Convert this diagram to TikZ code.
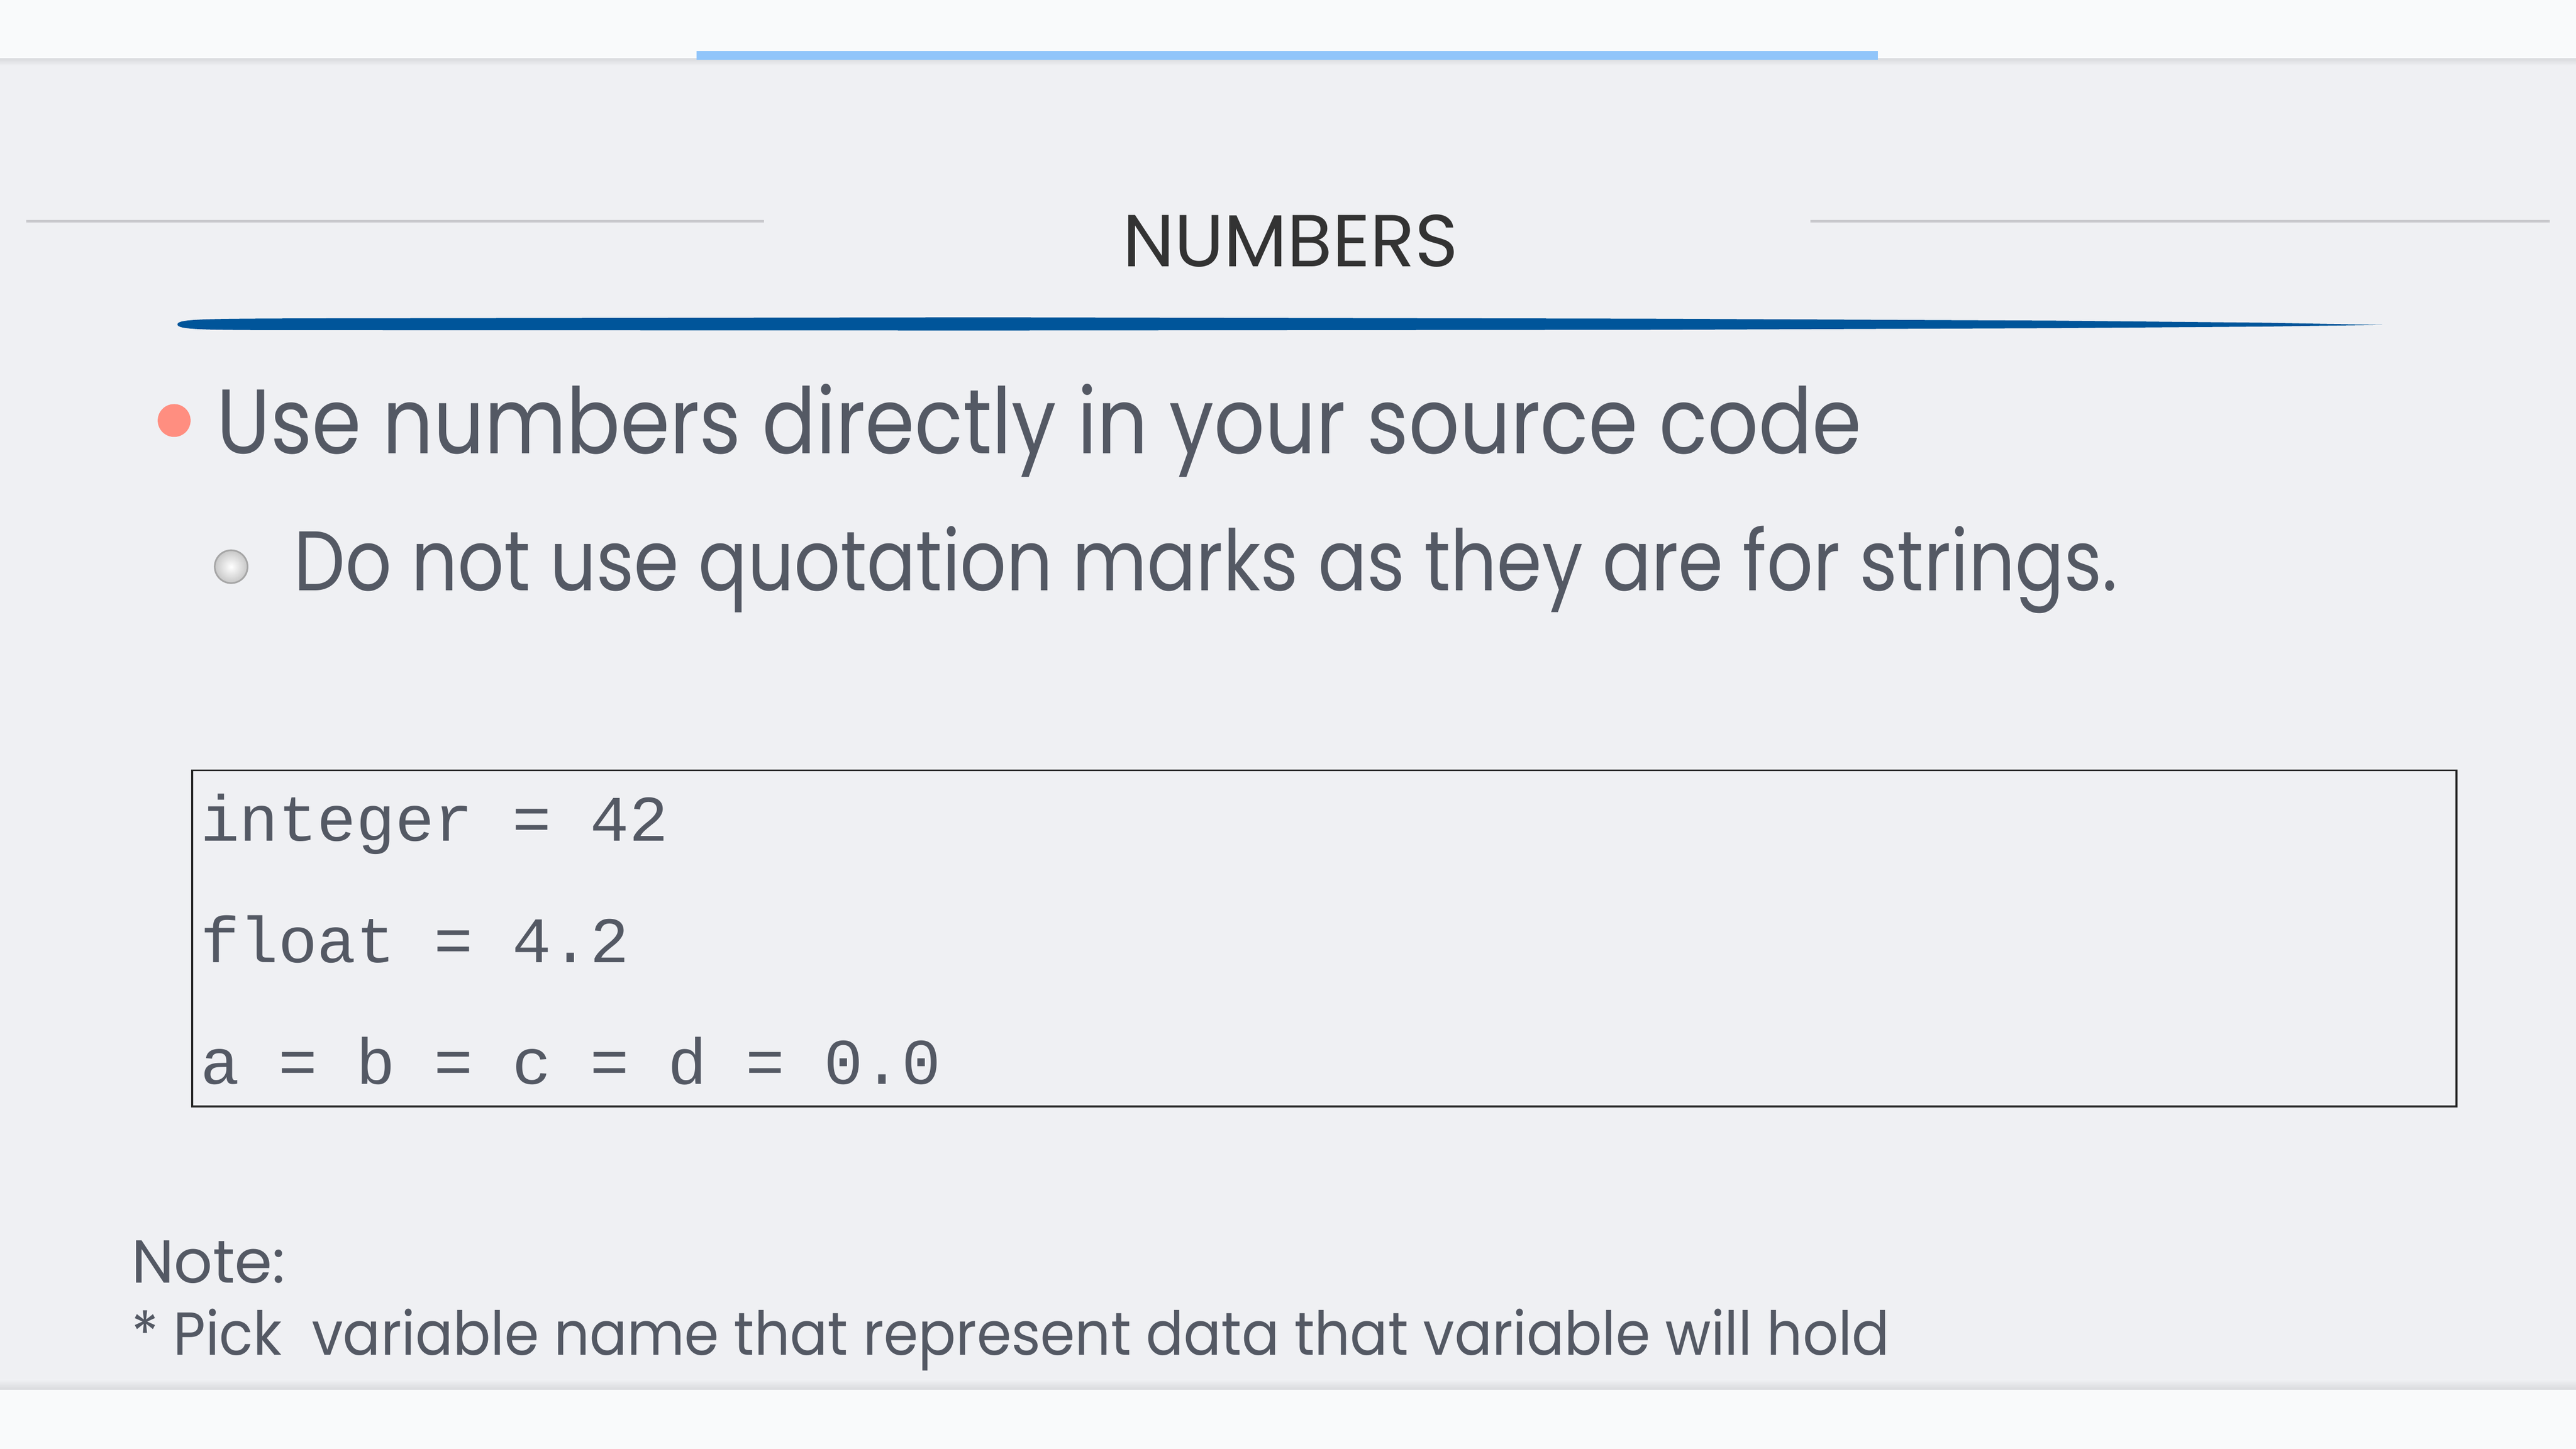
\documentclass[tikz,border=0pt]{standalone}
\usepackage{graphicx}
\usepackage{fontspec}
\setmainfont{Poppins}
\newfontfamily\codefont{Liberation Mono}
\definecolor{bgmain}{HTML}{EFF0F3}
\definecolor{bgband}{HTML}{F9FAFB}
\definecolor{txtgray}{HTML}{545964}
\definecolor{titlegray}{HTML}{333333}
\definecolor{rulegray}{HTML}{C9C9CD}
\definecolor{barblue}{HTML}{91C5FA}
\definecolor{brushblue}{HTML}{00559A}
\definecolor{dotpink}{HTML}{FF8E80}
\definecolor{shadowgray}{HTML}{D9DADD}
\tikzset{
  txt/.style={anchor=base west, inner sep=0pt, outer sep=0pt, text=txtgray},
  codetxt/.style={txt, font=\codefont\fontsize{22.5}{27}\selectfont},
}
\begin{document}
\begin{tikzpicture}[x=0.02cm, y=-0.02cm]
\useasboundingbox (0,0) rectangle (1568,882);
% backgrounds
\fill[bgmain] (0,0) rectangle (1568,882);
\fill[bgband] (0,0) rectangle (1568,35.5);
\shade[top color=shadowgray, bottom color=bgmain] (0,35.5) rectangle (1568,40);
\fill[bgband] (0,846) rectangle (1568,882);
\shade[top color=bgmain, bottom color=shadowgray] (0,840) rectangle (1568,846);
\fill[barblue] (424,31) rectangle (1143,36.5);
% title rules
\draw[rulegray, line width=1.5*0.02cm] (16,134.7) -- (465,134.7);
\draw[rulegray, line width=1.5*0.02cm] (1102,134.7) -- (1552,134.7);
\node[anchor=base, inner sep=0pt, text=titlegray, font=\fontsize{25.5}{30}\selectfont] (title) at (785.5,162.4) {NUMBERS};
% brush stroke
\fill[brushblue] (108,197.5) .. controls (108,194) and (125,194) .. (200,193.8)
  -- (600,193.2) -- (1000,194) -- (1250,195.2) -- (1380,196.5) -- (1450,197.8)
  -- (1380,198.8) -- (1250,199.8) -- (1000,200.8) -- (600,201.2) -- (200,201)
  .. controls (125,201) and (108,201) .. (108,197.5) -- cycle;
% bullets
\fill[dotpink] (106,256) circle (10);
\shade[inner color=white, outer color=black!22, draw=black!35, line width=0.02cm] (140.7,345) circle (10);
\node[txt, font=\fontsize{31.7}{38}\selectfont] (b1) at (132,276) {\scalebox{0.87}[1]{Use numbers directly in your source code}};
\node[txt, font=\fontsize{29.3}{35}\selectfont] (b2) at (179,359.5) {\scalebox{0.858}[1]{Do not use quotation marks as they are for strings.}};
% code box
\draw[black!85, line width=1.2*0.02cm] (117,469) rectangle (1495.3,673.7);
\node[codetxt] (c1) at (122,512) {integer = 42};
\node[codetxt] (c2) at (122,586) {float = 4.2};
\node[codetxt] (c3) at (122,660) {a = b = c = d = 0.0};
% note
\node[txt, font=\fontsize{21}{25}\selectfont] (n1) at (80,781) {Note:};
\node[txt, font=\fontsize{21}{25}\selectfont] (n2) at (80,825) {\scalebox{0.92}[1]{* Pick\ \ variable name that represent data that variable will hold}};
\end{tikzpicture}
\end{document}
